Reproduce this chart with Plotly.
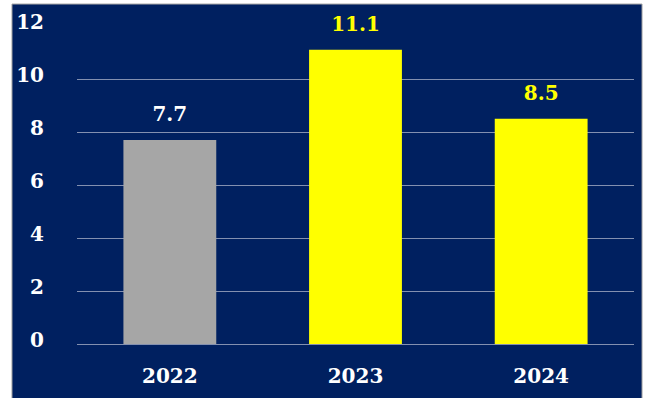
import plotly.graph_objects as go

# Annual values by year
years = ["2022", "2023", "2024"]
values = [7.7, 11.1, 8.5]
bar_colors = ["#a6a6a6", "#ffff00", "#ffff00"]
label_colors = ["#ffffff", "#ffff00", "#ffff00"]
y_ticks = [0, 2, 4, 6, 8, 10, 12]

NAVY = "#002060"
FONT = "DejaVu Serif"

fig = go.Figure()

fig.add_trace(
    go.Bar(
        x=years,
        y=values,
        marker=dict(color=bar_colors, line=dict(width=0)),
        hoverinfo="skip",
    )
)

# Value labels sitting above each bar (invisible markers keep them lifted)
fig.add_trace(
    go.Scatter(
        x=years,
        y=values,
        mode="markers+text",
        text=[f"<b>{v}</b>" for v in values],
        textposition="top center",
        textfont=dict(family=FONT, size=20, color=label_colors),
        marker=dict(size=20, color="rgba(0,0,0,0)"),
        cliponaxis=False,
        hoverinfo="skip",
    )
)

# Dark panel behind the chart with a thin grey frame
fig.add_shape(
    type="rect", xref="paper", yref="paper",
    x0=-0.1167, x1=1.0144, y0=-0.2, y1=1.069,
    fillcolor=NAVY, line=dict(color="#a0a0a0", width=1), layer="below",
)

fig.update_layout(
    width=645, height=398,
    margin=dict(l=77, r=11, t=26, b=54),
    paper_bgcolor="white",
    plot_bgcolor="rgba(0,0,0,0)",
    showlegend=False,
    bargap=0.5,
    font=dict(family=FONT, size=20, color="white"),
    xaxis=dict(
        type="category", automargin=False,
        showgrid=False, zeroline=False, showline=False,
        ticks="outside", ticklen=14, tickcolor="rgba(0,0,0,0)",
        tickvals=years, ticktext=[f"<b>{y}</b>" for y in years],
        tickfont=dict(family=FONT, size=20, color="white"),
    ),
    yaxis=dict(
        range=[0, 12], automargin=False,
        tickvals=y_ticks, ticktext=[f"<b>{t}</b>" for t in y_ticks],
        showgrid=True, gridcolor="#8390b0", gridwidth=1,
        zeroline=True, zerolinecolor="#8390b0", zerolinewidth=1,
        showline=False,
        ticks="outside", ticklen=28, tickcolor="rgba(0,0,0,0)",
        ticklabelshift=-4,
        tickfont=dict(family=FONT, size=20, color="white"),
    ),
)

fig.write_html("out.html")
